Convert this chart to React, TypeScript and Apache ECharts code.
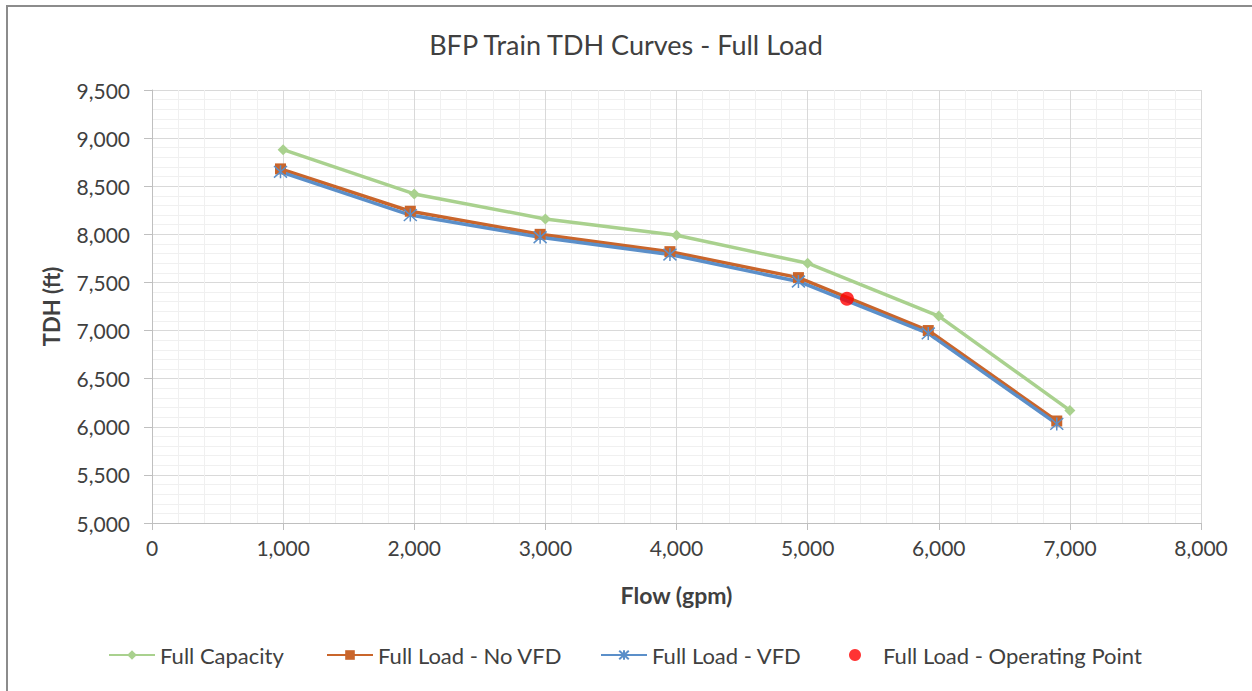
import React, { useEffect, useRef } from "react";
import * as echarts from "echarts";

const capacityFlow = [1000, 2000, 3000, 4000, 5000, 6000, 7000];
const capacityTdh = [8880, 8420, 8160, 7990, 7700, 7150, 6170];
const noVfdFlow = [980, 1970, 2960, 3950, 4930, 5920, 6900];
const noVfdTdh = [8680, 8240, 8000, 7820, 7550, 7000, 6060];
const vfdFlow = [980, 1970, 2960, 3950, 4930, 5920, 6900];
const vfdTdh = [8650, 8200, 7970, 7790, 7510, 6970, 6030];
const opFlow = [5300];
const opTdh = [7330];
const seriesNames = ["Full Capacity", "Full Load - No VFD", "Full Load - VFD", "Full Load - Operating Point"];

const FONT = "Lato";
const fmt = (v: number) => v.toLocaleString("en-US");
const pairs = (xs: number[], ys: number[]) => xs.map((x, i) => [x, ys[i]]);

const STAR = "path://M0,-5L0,5M-4.5,-4.5L4.5,4.5M-4.5,4.5L4.5,-4.5";

export default function App() {
  const ref = useRef<HTMLDivElement>(null);
  useEffect(() => {
    if (!ref.current) return;
    const chart = echarts.init(ref.current, undefined, { renderer: "svg" });
    const green = "#A9D18E";
    const orange = "#C9652B";
    const blue = "#5B8FC9";
    const legendBase = {
      bottom: 25,
      padding: 0,
      itemWidth: 46,
      itemHeight: 12,
      textStyle: { fontFamily: FONT, fontSize: 22, color: "#404040" },
      selectedMode: false,
    };
    chart.setOption({
      animation: false,
      backgroundColor: "#fff",
      title: {
        text: "BFP Train TDH Curves - Full Load",
        left: "center",
        top: 26,
        textStyle: { fontFamily: FONT, fontSize: 27, fontWeight: "normal", color: "#404040" },
      },
      graphic: [
        {
          type: "rect",
          shape: { x: 7, y: 6, width: 1300, height: 800 },
          style: { fill: "none", stroke: "#8c8c8c", lineWidth: 2 },
          silent: true,
        },
      ],
      legend: [
        { ...legendBase, left: 108, data: [seriesNames[0]] },
        { ...legendBase, left: 326, data: [seriesNames[1]] },
        { ...legendBase, left: 600, data: [seriesNames[2]] },
        { ...legendBase, left: 849, data: [seriesNames[3]] },
      ],
      grid: { left: 152, right: 51, top: 90, bottom: 168 },
      xAxis: {
        type: "value",
        min: 0,
        max: 8000,
        interval: 1000,
        name: "Flow (gpm)",
        nameLocation: "middle",
        nameGap: 60,
        nameTextStyle: { fontFamily: FONT, fontSize: 23, fontWeight: "bold", color: "#404040" },
        axisLine: { show: true, lineStyle: { color: "#bfbfbf", width: 1 } },
        axisTick: { show: true, length: 7, lineStyle: { color: "#bfbfbf" } },
        axisLabel: { fontFamily: FONT, fontSize: 21, color: "#404040", margin: 14, formatter: fmt },
        splitLine: { show: true, lineStyle: { color: "#d9d9d9", width: 1 } },
        minorTick: { show: false, splitNumber: 5 },
        minorSplitLine: { show: true, lineStyle: { color: "#f0f0f0", width: 1 } },
      },
      yAxis: {
        type: "value",
        min: 5000,
        max: 9500,
        interval: 500,
        name: "TDH (ft)",
        nameLocation: "middle",
        nameGap: 90,
        nameRotate: 90,
        nameTextStyle: { fontFamily: FONT, fontSize: 22, fontWeight: "bold", color: "#404040" },
        axisLine: { show: true, lineStyle: { color: "#bfbfbf", width: 1 } },
        axisTick: { show: true, length: 8, lineStyle: { color: "#bfbfbf" } },
        axisLabel: { fontFamily: FONT, fontSize: 21, color: "#404040", margin: 22, formatter: fmt },
        splitLine: { show: true, lineStyle: { color: "#d9d9d9", width: 1 } },
        minorTick: { show: false, splitNumber: 5 },
        minorSplitLine: { show: true, lineStyle: { color: "#f0f0f0", width: 1 } },
      },
      series: [
        {
          name: seriesNames[0],
          type: "line",
          data: pairs(capacityFlow, capacityTdh),
          symbol: "diamond",
          symbolSize: 11,
          lineStyle: { color: green, width: 3.5 },
          itemStyle: { color: green },
        },
        {
          name: seriesNames[1],
          type: "line",
          data: pairs(noVfdFlow, noVfdTdh),
          symbol: "rect",
          symbolSize: 11,
          lineStyle: { color: orange, width: 3.5 },
          itemStyle: { color: orange },
        },
        {
          name: seriesNames[2],
          type: "line",
          data: pairs(vfdFlow, vfdTdh),
          symbol: STAR,
          symbolSize: 13,
          lineStyle: { color: blue, width: 3.5 },
          itemStyle: { color: blue, borderColor: blue, borderWidth: 1.5 },
        },
        {
          name: seriesNames[3],
          type: "scatter",
          data: pairs(opFlow, opTdh),
          symbol: "circle",
          symbolSize: 14,
          itemStyle: { color: "#FF0000" },
          z: 5,
        },
      ],
    });
    return () => chart.dispose();
  }, []);
  return (
    <div
      ref={ref}
      style={{ position: "fixed", left: 0, top: 0, width: 1252, height: 691 }}
    />
  );
}
